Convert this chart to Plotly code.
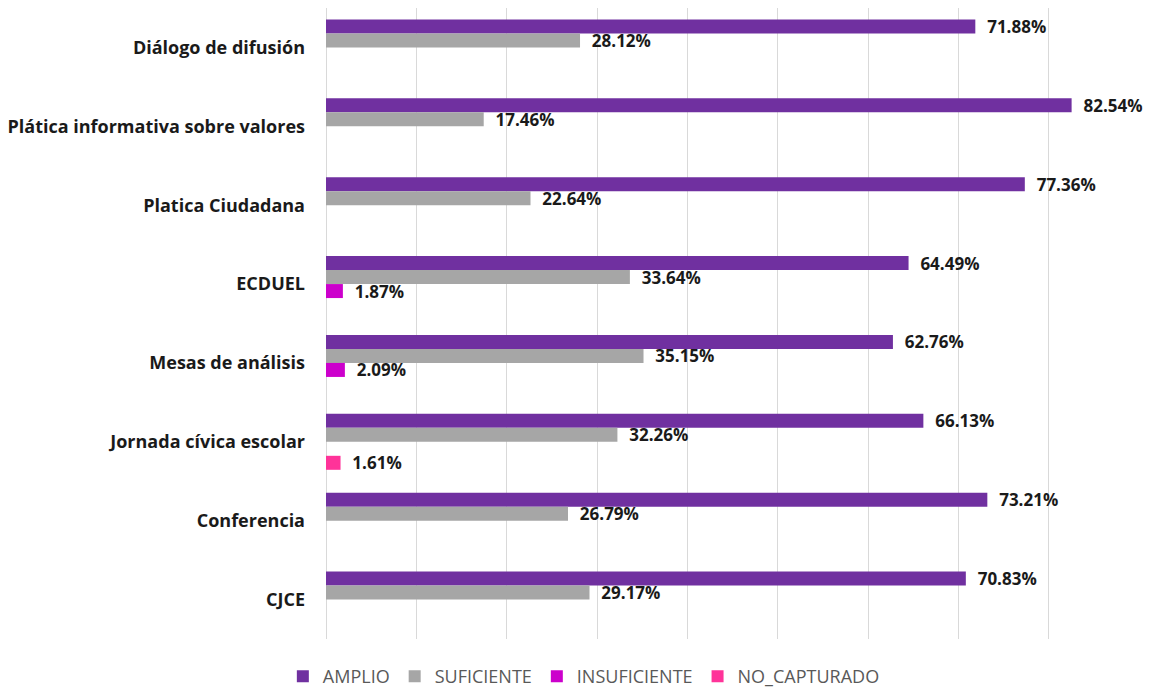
import plotly.graph_objects as go

# Categories top to bottom
categories = [
    "Diálogo de difusión",
    "Plática informativa sobre valores",
    "Platica Ciudadana",
    "ECDUEL",
    "Mesas de análisis",
    "Jornada cívica escolar",
    "Conferencia",
    "CJCE",
]

amplio = [71.88, 82.54, 77.36, 64.49, 62.76, 66.13, 73.21, 70.83]
suficiente = [28.12, 17.46, 22.64, 33.64, 35.15, 32.26, 26.79, 29.17]
insuficiente = [None, None, None, 1.87, 2.09, None, None, None]
no_capturado = [None, None, None, None, None, 1.61, None, None]

series = [
    ("AMPLIO", amplio, "#7030A0"),
    ("SUFICIENTE", suficiente, "#A6A6A6"),
    ("INSUFICIENTE", insuficiente, "#CC00CC"),
    ("NO_CAPTURADO", no_capturado, "#FF3399"),
]

FONT = "Open Sans, Lato, sans-serif"

fig = go.Figure()
for name, vals, color in series:
    fig.add_trace(
        go.Bar(
            y=categories,
            x=vals,
            name=name,
            orientation="h",
            marker={"color": color, "line": {"width": 0}},
            # non-breaking spaces push the label off the bar end like Excel does
            texttemplate="\u00a0\u00a0%{x:.2f}%",
            textposition="outside",
            constraintext="none",
            textfont={"family": FONT, "size": 17, "color": "#1a1a1a", "weight": "bold"},
            cliponaxis=False,
        )
    )

# page body has an 8px margin, so the plot area is shifted back by that much
fig.update_layout(
    width=1154,
    height=687,
    barmode="group",
    bargap=0.29,
    bargroupgap=0,
    plot_bgcolor="white",
    paper_bgcolor="white",
    margin={"l": 318, "r": 23, "t": 0, "b": 56, "autoexpand": False},
    font={"family": FONT},
    xaxis={
        "range": [0, 90],
        "dtick": 10,
        "showticklabels": False,
        "showgrid": True,
        "gridcolor": "#D9D9D9",
        "gridwidth": 1,
        "zeroline": True,
        "zerolinecolor": "#D9D9D9",
        "zerolinewidth": 1,
        "showline": False,
        "automargin": False,
    },
    yaxis={
        "autorange": "reversed",
        "tickfont": {"family": FONT, "size": 18, "color": "#1a1a1a", "weight": "bold"},
        "ticklabelstandoff": 20,
        "showline": False,
        "ticks": "",
        "automargin": False,
    },
    legend={
        "orientation": "h",
        "xref": "container",
        "x": 0.499,
        "xanchor": "center",
        "yref": "container",
        "y": 0.0,
        "yanchor": "bottom",
        "font": {"family": FONT, "size": 18, "color": "#595959"},
        "traceorder": "normal",
        "itemwidth": 30,
    },
)

fig.write_html("out.html")
